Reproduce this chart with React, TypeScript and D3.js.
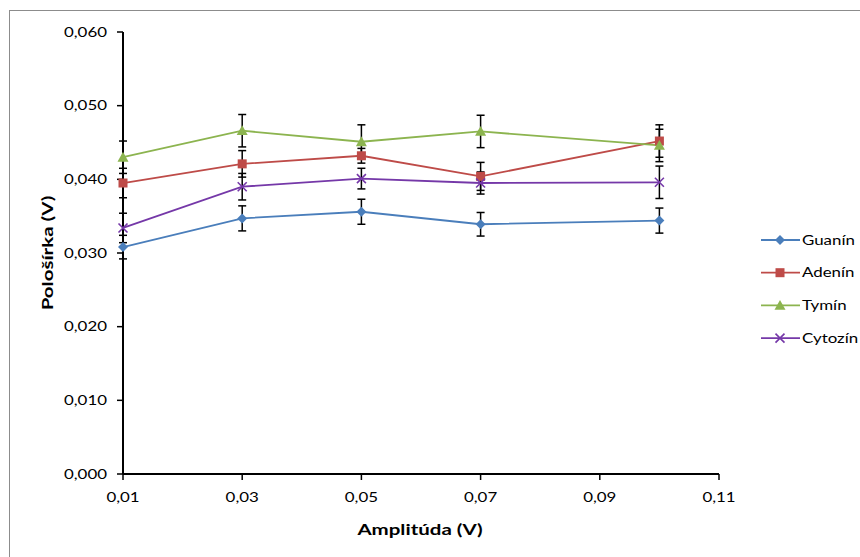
import React from "react";
import * as d3 from "d3";

const amplitudes = [0.01, 0.03, 0.05, 0.07, 0.1];
const seriesNames = ["Guanín", "Adenín", "Tymín", "Cytozín"];
const guanin = [0.0308, 0.0347, 0.0356, 0.0339, 0.0344];
const adenin = [0.0395, 0.0421, 0.0432, 0.0404, 0.0452];
const tymin = [0.043, 0.0466, 0.0451, 0.0465, 0.0446];
const cytozin = [0.0334, 0.039, 0.0401, 0.0395, 0.0396];
const guaninErr = [0.0016, 0.0017, 0.0017, 0.0016, 0.0017];
const adeninErr = [0.002, 0.0018, 0.001, 0.0019, 0.0022];
const tyminErr = [0.0022, 0.0022, 0.0023, 0.0022, 0.0022];
const cytozinErr = [0.002, 0.0018, 0.0014, 0.0015, 0.0022];
const xTicks = [0.01, 0.03, 0.05, 0.07, 0.09, 0.11];
const yTicks = [0, 0.01, 0.02, 0.03, 0.04, 0.05, 0.06];
const colors = ["#4A7EBB", "#BE4B48", "#8CB44F", "#7538A8"];
const markers = ["diamond", "square", "triangle", "x"];

const values = [guanin, adenin, tymin, cytozin];
const errors = [guaninErr, adeninErr, tyminErr, cytozinErr];

const FONT = "Lato, 'Open Sans', sans-serif";
const SX = 1.3;

function Marker({ type, x, y, color }: { type: string; x: number; y: number; color: string }) {
  if (type === "diamond") {
    const s = 5;
    return <path d={`M${x},${y - s}L${x + s},${y}L${x},${y + s}L${x - s},${y}Z`} fill={color} />;
  }
  if (type === "square") {
    const s = 4.5;
    return <rect x={x - s} y={y - s} width={2 * s} height={2 * s} fill={color} />;
  }
  if (type === "triangle") {
    const s = 5.5;
    return <path d={`M${x},${y - s}L${x + s},${y + s * 0.8}L${x - s},${y + s * 0.8}Z`} fill={color} />;
  }
  const s = 4.5;
  return (
    <path
      d={`M${x - s},${y - s}L${x + s},${y + s}M${x - s},${y + s}L${x + s},${y - s}`}
      stroke={color}
      strokeWidth={1.6}
      fill="none"
    />
  );
}

function WideText({
  x,
  y,
  anchor,
  size,
  bold,
  rotate,
  sx,
  children,
}: {
  x: number;
  y: number;
  anchor: string;
  size: number;
  bold?: boolean;
  rotate?: number;
  sx?: number;
  children: React.ReactNode;
}) {
  return (
    <text
      transform={`translate(${x},${y}) rotate(${rotate || 0}) scale(${sx || SX},1)`}
      textAnchor={anchor}
      fontSize={size}
      fontWeight={bold ? "bold" : "normal"}
      fill="#000"
    >
      {children}
    </text>
  );
}

export default function App() {
  const x = d3.scaleLinear().domain([0.01, 0.11]).range([123, 719]);
  const y = d3.scaleLinear().domain([0, 0.06]).range([474, 32]);
  const fmtY = (v: number) => d3.format(".3f")(v).replace(".", ",");
  const fmtX = (v: number) => d3.format(".2f")(v).replace(".", ",");
  const line = d3
    .line<number>()
    .x((_, i) => x(amplitudes[i]))
    .y((d) => y(d));

  return (
    <svg
      width={860}
      height={557}
      style={{ position: "absolute", left: 0, top: 0, background: "#fff" }}
      fontFamily={FONT}
    >
      <rect x={0} y={0} width={860} height={557} fill="#fff" />
      <rect x={9.5} y={10.5} width={900} height={600} fill="none" stroke="#8c8c8c" strokeWidth={1} />

      {/* Y axis */}
      <line x1={123} x2={123} y1={y(0.06)} y2={y(0)} stroke="#000" strokeWidth={2} />
      {yTicks.map((t) => (
        <g key={"y" + t}>
          <line x1={117} x2={123} y1={y(t)} y2={y(t)} stroke="#000" strokeWidth={1.5} />
          <WideText x={107} y={y(t) + 4.5} anchor="end" size={13}>
            {fmtY(t)}
          </WideText>
        </g>
      ))}
      {/* X axis */}
      <line x1={x(0.01)} x2={x(0.11)} y1={474} y2={474} stroke="#000" strokeWidth={2} />
      {xTicks.map((t) => (
        <g key={"x" + t}>
          <line x1={x(t)} x2={x(t)} y1={474} y2={480} stroke="#000" strokeWidth={1.5} />
          <WideText x={x(t)} y={502} anchor="middle" size={13}>
            {fmtX(t)}
          </WideText>
        </g>
      ))}

      <WideText x={420} y={535} anchor="middle" size={16} bold sx={1.28}>
        Amplitúda (V)
      </WideText>
      <WideText x={53} y={253} anchor="middle" size={16} bold rotate={-90} sx={1.28}>
        Pološírka (V)
      </WideText>

      {/* error bars */}
      {values.map((vals, si) =>
        vals.map((v, i) => {
          const e = errors[si][i];
          const cx = x(amplitudes[i]);
          return (
            <g key={`e${si}-${i}`} stroke="#000" strokeWidth={1.5}>
              <line x1={cx} x2={cx} y1={y(v + e)} y2={y(v - e)} />
              <line x1={cx - 4} x2={cx + 4} y1={y(v + e)} y2={y(v + e)} />
              <line x1={cx - 4} x2={cx + 4} y1={y(v - e)} y2={y(v - e)} />
            </g>
          );
        })
      )}

      {/* lines */}
      {values.map((vals, si) => (
        <path key={"l" + si} d={line(vals) || ""} fill="none" stroke={colors[si]} strokeWidth={1.8} />
      ))}
      {values.map((vals, si) =>
        vals.map((v, i) => (
          <Marker key={`m${si}-${i}`} type={markers[si]} x={x(amplitudes[i])} y={y(v)} color={colors[si]} />
        ))
      )}

      {/* legend */}
      {seriesNames.map((name, si) => {
        const ly = 240 + si * 32.7;
        return (
          <g key={"lg" + si}>
            <line x1={761} x2={800} y1={ly} y2={ly} stroke={colors[si]} strokeWidth={1.8} />
            <Marker type={markers[si]} x={780} y={ly} color={colors[si]} />
            <WideText x={802} y={ly + 4.5} anchor="start" size={13}>
              {name}
            </WideText>
          </g>
        );
      })}
    </svg>
  );
}
